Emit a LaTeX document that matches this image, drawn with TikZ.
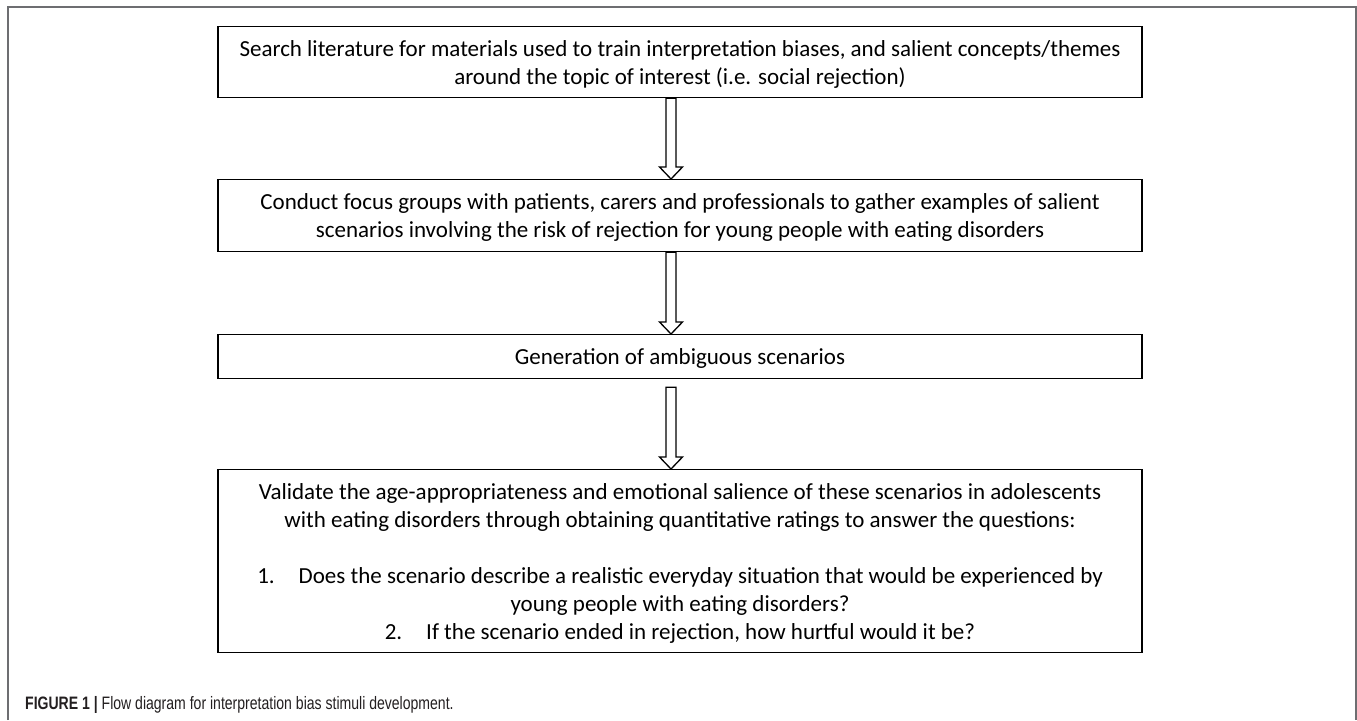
\documentclass[tikz,border=0pt]{standalone}
\usepackage{fontspec}
\setmainfont{Carlito}
\newfontfamily\capfont[FakeStretch=0.78]{Liberation Sans}
\usetikzlibrary{calc}
\definecolor{framegray}{HTML}{6D6E71}
\definecolor{captext}{HTML}{231F20}
\tikzset{
  flowbox/.style={draw=black, line width=1.3pt, inner sep=0pt, anchor=north, font=\fontsize{23}{28}\selectfont},
  blockarr/.style={draw=black, line width=1.3pt, fill=white, line join=miter},
}
\newcommand\boxtext[2]{\parbox[c][#1][t]{924pt}{\centering\rule{0pt}{30pt}#2}}
\newcommand\blockarrow[2]{%
  \draw[blockarr] let \p1=#1, \p2=#2 in
    (\x1-5pt,\y1) -- (\x1-5pt,\y2+12pt) -- (\x1-11.5pt,\y2+12pt) -- (\x1,\y2)
    -- (\x1+11.5pt,\y2+12pt) -- (\x1+5pt,\y2+12pt) -- (\x1+5pt,\y1) -- cycle;}
\begin{document}
\begin{tikzpicture}[x=1pt,y=-1pt]
\useasboundingbox (0,0) rectangle (1357,720);
\draw[framegray, line width=1.5pt] (8,720) -- (8,7) -- (1356,7) -- (1356,720);
\node[flowbox] (b1) at (680,26) {\boxtext{71pt}{Search literature for materials used to train interpretation biases, and salient concepts/themes\\ around the topic of interest (i.e. social rejection)}};
\node[flowbox] (b2) at (680,179) {\boxtext{72pt}{Conduct focus groups with patients, carers and professionals to gather examples of salient\\ scenarios involving the risk of rejection for young people with eating disorders}};
\node[flowbox] (b3) at (680,334) {\boxtext{44pt}{Generation of ambiguous scenarios}};
\node[flowbox] (b4) at (680,469) {\boxtext{183pt}{Validate the age-appropriateness and emotional salience of these scenarios in adolescents\\ with eating disorders through obtaining quantitative ratings to answer the questions:\\ \mbox{}\\ 1.\hspace{24pt}Does the scenario describe a realistic everyday situation that would be experienced by\\ young people with eating disorders?\\ 2.\hspace{24pt}If the scenario ended in rejection, how hurtful would it be?}};
\blockarrow{($(b1.south)+(-9,0)$)}{($(b2.north)+(-9,0)$)}
\blockarrow{($(b2.south)+(-9,0)$)}{($(b3.north)+(-9,0)$)}
\blockarrow{($(b3.south)+(-9,8)$)}{($(b4.north)+(-9,0)$)}
\node[anchor=base west, inner sep=0pt, text=captext, font=\capfont\fontsize{18}{20}\selectfont] (cap) at (25,709) {\textbf{FIGURE 1 |} Flow diagram for interpretation bias stimuli development.};
\end{tikzpicture}
\end{document}
